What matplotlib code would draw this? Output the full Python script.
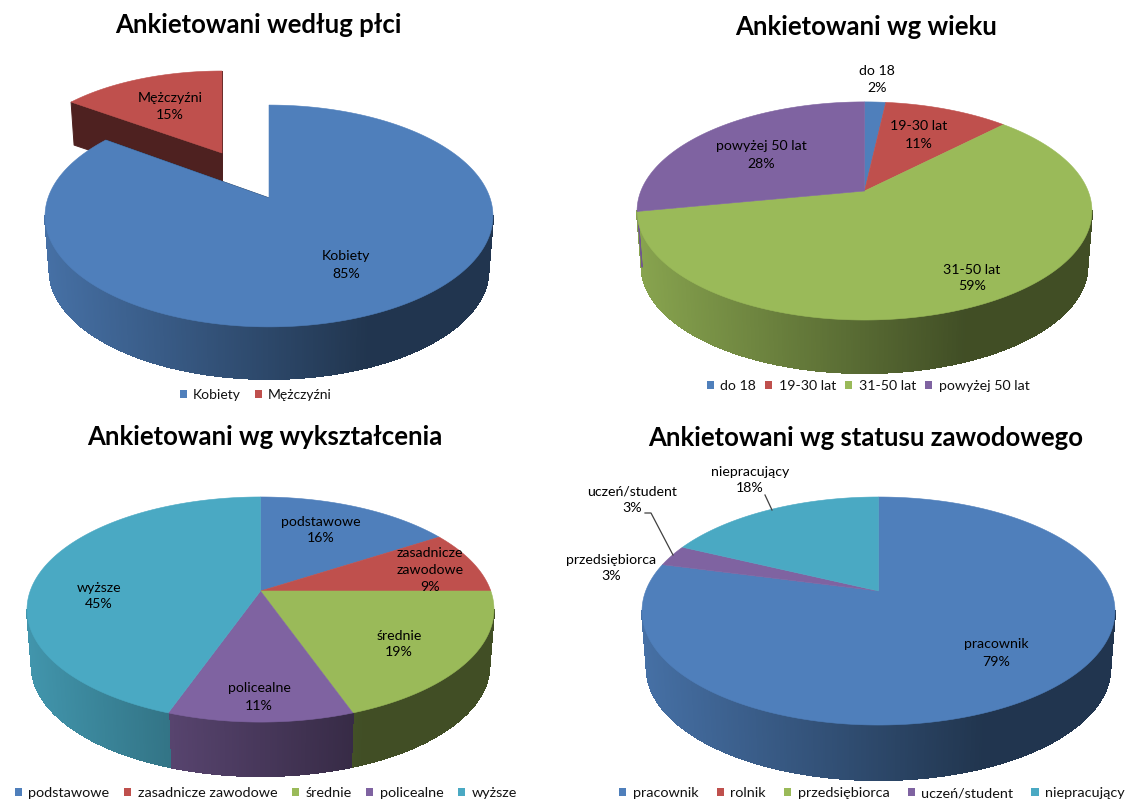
import numpy as np
import matplotlib

matplotlib.use('Agg')
import matplotlib.pyplot as plt
from matplotlib.collections import PolyCollection
from matplotlib.legend import Legend
from matplotlib.patches import Patch, Polygon

plt.rcParams['font.family'] = ['Lato', 'DejaVu Sans']

BLUE, RED, GREEN, PURPLE, CYAN = '#4f7fbb', '#bf504d', '#9aba59', '#7f63a1', '#4aa9c3'

# dane: wartosci wycinkow, etykiety z zaokragleniami jak w oryginale
plec_names = ['Kobiety', 'Mężczyźni']
plec_values = [85, 15]
plec_labels = ['Kobiety\n85%', 'Mężczyźni\n15%']

wiek_names = ['do 18', '19-30 lat', '31-50 lat', 'powyżej 50 lat']
wiek_values = [1.8, 10.6, 59.6, 28]
wiek_labels = ['do 18\n2%', '19-30 lat\n11%', '31-50 lat\n59%', 'powyżej 50 lat\n28%']

wyk_names = ['podstawowe', 'zasadnicze zawodowe', 'średnie', 'policealne', 'wyższe']
wyk_values = [16, 9, 19.5, 11, 44.5]
wyk_labels = ['podstawowe\n16%', 'zasadnicze\nzawodowe\n9%', 'średnie\n19%', 'policealne\n11%', 'wyższe\n45%']

status_names = ['pracownik', 'rolnik', 'przedsiębiorca', 'uczeń/student', 'niepracujący']
status_values = [79, 0, 0, 3, 18]  # w oryginale widać tylko jeden wąski fioletowy wycinek
status_labels = ['pracownik\n79%', 'przedsiębiorca\n3%', 'uczeń/student\n3%', 'niepracujący\n18%']


def darken(color, f):
    return tuple(c * f for c in matplotlib.colors.to_rgb(color))


def rim(g, t, scale=1.0, drop=0.0):
    # t w radianach, zgodnie z ruchem wskazówek zegara od góry
    big_x, big_y = np.sin(t), np.cos(t)
    s = 1 / (1 + g['k'] * big_y)
    return (g['cx'] + scale * g['rx'] * big_x * s,
            g['cy'] + drop - scale * g['ry'] * big_y * s)


def draw_slice(ax, g, t0, t1, color, faces=False):
    half = g['rx'] / np.sqrt(1 - g['k'] ** 2)
    n = max(2, int(np.degrees(t1 - t0) * 2))
    ts = np.linspace(t0, t1, n + 1)
    xt, yt = rim(g, ts)
    xb, yb = rim(g, ts, 0.98, g['d'])
    # ściana boczna z gradientem od lewej do prawej, tylko przednia część
    polys, cols = [], []
    for i in range(n):
        if np.cos((ts[i] + ts[i + 1]) / 2) > -g['k']:
            continue
        polys.append([(xt[i], yt[i]), (xt[i + 1], yt[i + 1]), (xb[i + 1], yb[i + 1]), (xb[i], yb[i])])
        frac = ((xt[i] + xt[i + 1]) / 2 - (g['cx'] - half)) / (2 * half)
        cols.append(darken(color, 0.88 - 0.46 * min(1, frac / 0.72)))
    if polys:
        ax.add_collection(PolyCollection(polys, facecolors=cols, edgecolors=cols, linewidths=0.8,
                                         antialiaseds=False))
    if faces:
        dark = darken(color, 0.41)
        for i in (0, -1):
            ax.add_patch(Polygon([(g['cx'], g['cy']), (xt[i], yt[i]), (xb[i], yb[i]),
                                  (g['cx'], g['cy'] + g['d'])], fc=dark, ec=dark, lw=0.7))
    return list(zip(xt, yt))


def draw_top(ax, g, arc, color):
    pts = [(g['cx'], g['cy'])] + arc
    ax.add_patch(Polygon(pts, fc=color, ec=color, lw=0.4))


def draw_pie(ax, g, values, colors, faces=False):
    bounds = np.radians(np.cumsum([0] + list(values)) * 3.6)
    tops = []
    for i, v in enumerate(values):
        if v > 0:
            tops.append((draw_slice(ax, g, bounds[i], bounds[i + 1], colors[i], faces), colors[i]))
    for arc, c in tops:
        draw_top(ax, g, arc, c)


def add_legend(ax, names, colors, x, y, spacing, size=10):
    handles = [Patch(fc=c, ec=c, lw=0) for c in colors]
    leg = Legend(ax, handles, names, loc='center', bbox_to_anchor=(x, y), bbox_transform=ax.transData,
                 ncol=len(names), frameon=False, fontsize=size, handlelength=0.5, handleheight=0.5,
                 handletextpad=0.45, columnspacing=spacing, borderpad=0, borderaxespad=0)
    for t in leg.get_texts():
        t.set_color('#111111')
    ax.add_artist(leg)


def put_labels(ax, labels, positions):
    for text, (x, y) in zip(labels, positions):
        ax.text(x, y, text, ha='center', va='center', fontsize=10.2, color='#000000', linespacing=1.5)


fig = plt.figure(figsize=(11.28, 8.02), dpi=100)
ax = fig.add_axes([0, 0, 1, 1])
ax.set_xlim(0, 1128)
ax.set_ylim(802, 0)
ax.axis('off')

palette = [BLUE, RED, GREEN, PURPLE, CYAN]

# wykres 1: wysunięty wycinek rysowany najpierw
g1 = dict(cx=269, cy=198, rx=221, ry=108, k=0.162, d=54.6)
g1_red = dict(cx=222, cy=153, rx=203, ry=94.3, k=0.15, d=42)
start = np.radians(plec_values[0] * 3.6)
arc = draw_slice(ax, g1_red, start, 2 * np.pi, RED, faces=True)
draw_top(ax, g1_red, arc, RED)
arc = draw_slice(ax, g1, 0, start, BLUE, faces=True)
draw_top(ax, g1, arc, BLUE)
put_labels(ax, plec_labels, [(346, 265), (170, 106.5)])

# wykres 2
g2 = dict(cx=864.5, cy=191, rx=223.6, ry=105.4, k=0.183, d=55.6)
draw_pie(ax, g2, wiek_values, palette)
put_labels(ax, wiek_labels, [(877, 79.5), (919, 135), (972, 278), (761, 155)])

# wykres 3
g3 = dict(cx=260.5, cy=591, rx=230.3, ry=109.5, k=0.1646, d=56.6)
draw_pie(ax, g3, wyk_values, palette)
put_labels(ax, wyk_labels, [(321, 530), (430, 570), (399, 644), (259, 697), (99, 596)])

# wykres 4
g4 = dict(cx=878.5, cy=591, rx=232.8, ry=110.5, k=0.1755, d=57.7)
draw_pie(ax, g4, status_values, palette)
put_labels(ax, status_labels, [(996, 653), (611, 568), (632, 500), (750, 480)])
ax.plot([645, 651, 673], [513, 513, 555], color='#404040', lw=0.9)
ax.plot([765, 772], [495, 510], color='#404040', lw=0.9)

# tytuły
for text, x, y in [('Ankietowani według płci', 258, 25), ('Ankietowani wg wieku', 866, 27),
                   ('Ankietowani wg wykształcenia', 265, 437), ('Ankietowani wg statusu zawodowego', 866, 438)]:
    ax.text(x, y, text, ha='center', va='center', fontsize=18.5, fontweight='bold', color='#000000')

add_legend(ax, plec_names, palette[:2], 256, 395, 1.0)
add_legend(ax, wiek_names, palette[:4], 868, 386, 0.65, 10.2)
add_legend(ax, wyk_names, palette, 266, 793, 1.0, 10.4)
add_legend(ax, status_names, palette, 872, 793, 1.25, 10.4)

fig.savefig('out.png', dpi=100)
plt.close(fig)
